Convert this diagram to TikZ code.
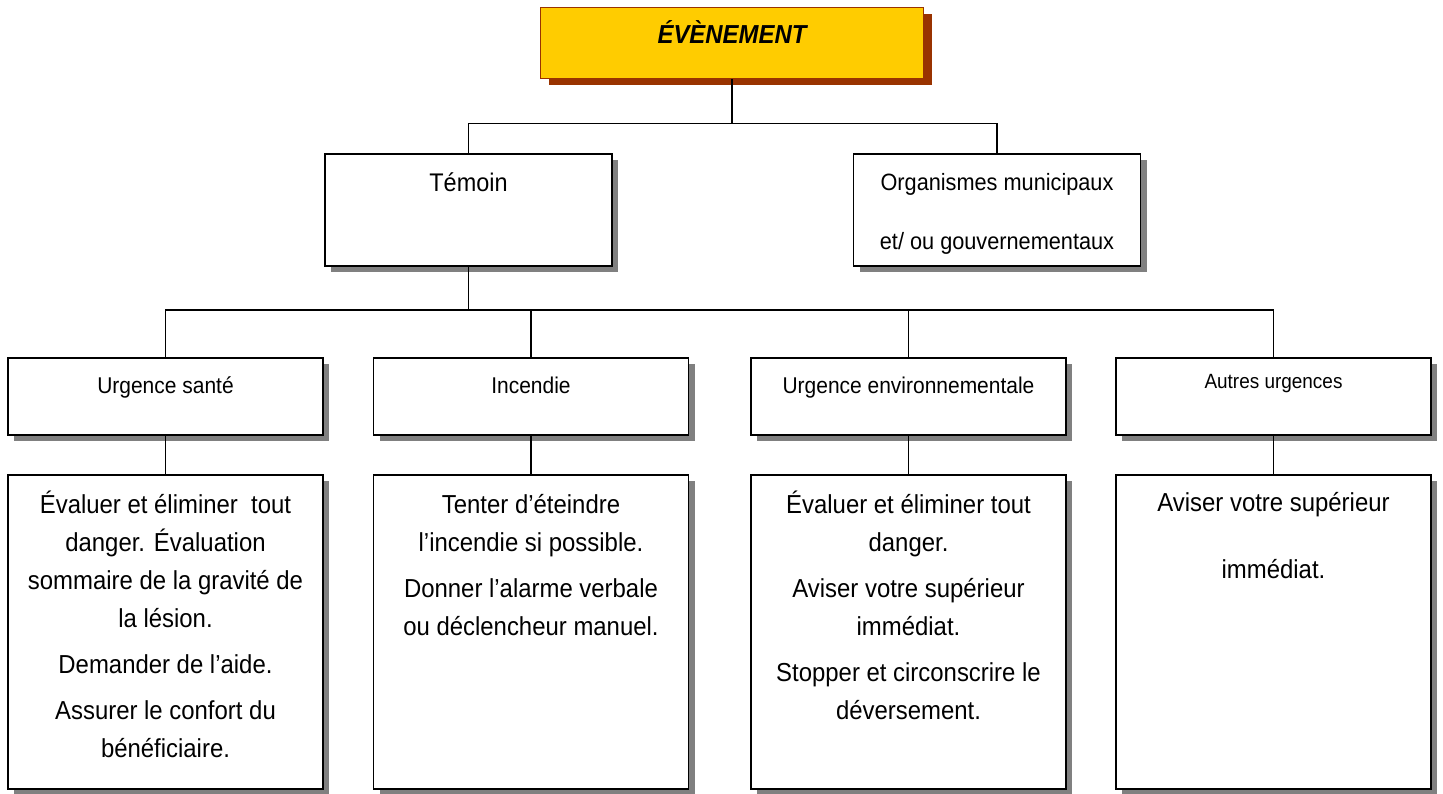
\documentclass[tikz,border=0pt]{standalone}
\usepackage{fontspec}
\setmainfont[FakeStretch=0.92]{Liberation Sans}
\usepackage{tikz}
\usetikzlibrary{positioning, shadows}
\definecolor{evyellow}{HTML}{FFCC00}
\definecolor{evbrown}{HTML}{993300}
\tikzstyle{eventbox} = [rectangle, minimum width=383pt, minimum height=71pt, draw=evbrown, line width=1pt, fill=evyellow, drop shadow={shadow xshift=8pt, shadow yshift=-6pt, fill=evbrown, opacity=1}]
\tikzstyle{greybox} = [rectangle, draw=black, line width=1.5pt, fill=white, drop shadow={shadow xshift=6pt, shadow yshift=-6pt, fill=black!50, opacity=1}]
\tikzstyle{topbox} = [greybox, minimum width=287pt, minimum height=112pt]
\tikzstyle{rowbox} = [greybox, minimum width=315pt, minimum height=77pt]
\tikzstyle{actbox} = [greybox, minimum width=315pt, minimum height=314pt]
\tikzstyle{txt} = [inner sep=0pt, align=center]
\tikzstyle{line} = [line width=1.5pt]
\newcommand{\topstrut}{\rule{0pt}{1em}}

\begin{document}
\begin{tikzpicture}[x=1pt, y=-1pt, node distance=167pt]
    \useasboundingbox (0,0) rectangle (1443,793);
    \node (Event) [eventbox] at (732,43) {};
    \node (Temoin) [topbox, below of = Event, xshift = -263.5pt] {};
    \node (Organismes) [topbox, below of = Event, xshift = 265pt] {};
    \node (Sante) [rowbox, node distance=186.5pt, below of = Temoin, xshift = -303pt] {};
    \node (Incendie) [rowbox, node distance=186.5pt, below of = Temoin, xshift = 62.5pt] {};
    \node (Environ) [rowbox, node distance=186.5pt, below of = Temoin, xshift = 440pt] {};
    \node (Autres) [rowbox, node distance=186.5pt, below of = Temoin, xshift = 805pt] {};
    \node (SanteAct) [actbox, node distance=235.5pt, below of = Sante] {};
    \node (IncendieAct) [actbox, node distance=235.5pt, below of = Incendie] {};
    \node (EnvironAct) [actbox, node distance=235.5pt, below of = Environ] {};
    \node (AutresAct) [actbox, node distance=235.5pt, below of = Autres] {};

    % texts
    \node (EventTxt) [txt, below=10pt of Event.north, font=\bfseries\itshape\fontsize{26}{31}\selectfont] {\topstrut ÉVÈNEMENT};
    \node (TemoinTxt) [txt, below=12.5pt of Temoin.north, font=\fontsize{25.5}{30}\selectfont] {\topstrut Témoin};
    \node (OrganismesTxt) [txt, below=13.6pt of Organismes.north, font=\fontsize{23.6}{59}\selectfont] {\topstrut Organismes municipaux\\ et/ ou gouvernementaux};
    \node (SanteTxt) [txt, below=13.2pt of Sante.north, font=\fontsize{22.8}{27}\selectfont] {\topstrut Urgence santé};
    \node (IncendieTxt) [txt, below=13.2pt of Incendie.north, font=\fontsize{22.8}{27}\selectfont] {\topstrut Incendie};
    \node (EnvironTxt) [txt, below=13.2pt of Environ.north, font=\fontsize{22.8}{27}\selectfont] {\topstrut Urgence environnementale};
    \node (AutresTxt) [txt, below=10.4pt of Autres.north, font=\fontsize{20.6}{25}\selectfont] {\topstrut Autres urgences};
    \node (SanteActTxt) [txt, below=13pt of SanteAct.north, font=\fontsize{26}{38}\selectfont] {\topstrut Évaluer et éliminer~ tout\\ danger. Évaluation\\ sommaire de la gravité de\\ la lésion.\\[8pt] Demander de l’aide.\\[8pt] Assurer le confort du\\ bénéficiaire.};
    \node (IncendieActTxt) [txt, below=13pt of IncendieAct.north, font=\fontsize{26}{38}\selectfont] {\topstrut Tenter d’éteindre\\ l’incendie si possible.\\[8pt] Donner l’alarme verbale\\ ou déclencheur manuel.};
    \node (EnvironActTxt) [txt, below=13pt of EnvironAct.north, font=\fontsize{26}{38}\selectfont] {\topstrut Évaluer et éliminer tout\\ danger.\\[8pt] Aviser votre supérieur\\ immédiat.\\[8pt] Stopper et circonscrire le\\ déversement.};
    \node (AutresActTxt) [txt, below=11pt of AutresAct.north, font=\fontsize{26}{38}\selectfont] {\topstrut Aviser votre supérieur\\[29pt] immédiat.};

    % connectors
    \coordinate [yshift=30pt] (Bus1) at (Temoin.north -| Event.south);
    \coordinate [yshift=-43pt] (Bus2) at (Temoin.south);
    \draw [line] (Event) -- (Bus1);
    \draw [line] (Temoin.north) |- (Bus1) -| (Organismes.north);
    \draw [line] (Temoin) -- (Bus2);
    \draw [line] (Sante.north) |- (Bus2) -| (Autres.north);
    \draw [line] (Incendie.north) -- (Incendie.north |- Bus2);
    \draw [line] (Environ.north) -- (Environ.north |- Bus2);
    \draw [line] (Sante) -- (SanteAct);
    \draw [line] (Incendie) -- (IncendieAct);
    \draw [line] (Environ) -- (EnvironAct);
    \draw [line] (Autres) -- (AutresAct);
\end{tikzpicture}
\end{document}
